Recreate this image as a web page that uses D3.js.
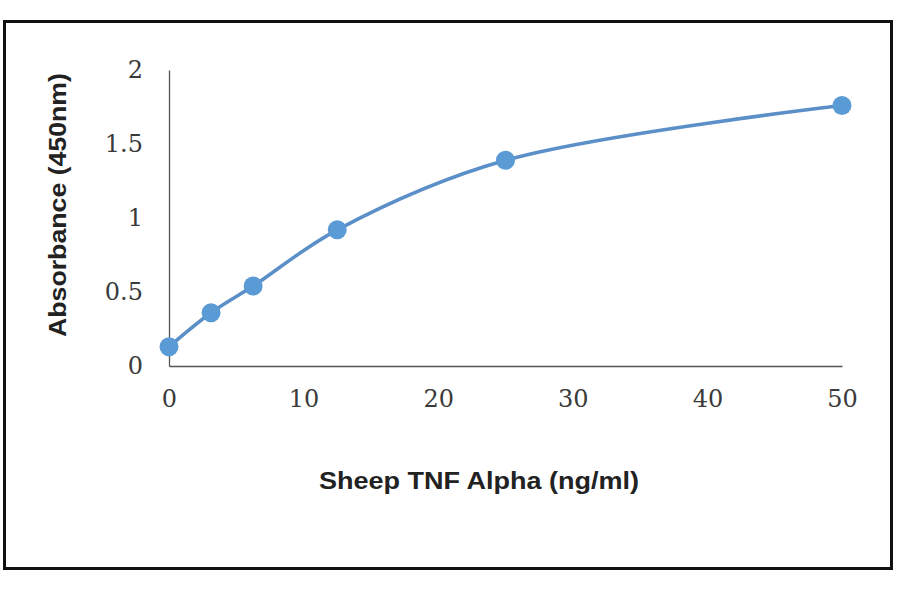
<!DOCTYPE html>
<html>
<head>
<meta charset="utf-8">
<script src="https://cdn.jsdelivr.net/npm/d3@7"></script>
<style>
  body { margin: 0; background: #fff; }
</style>
</head>
<body>
<script>
// data
var concentration = [0, 3.125, 6.25, 12.5, 25, 50];
var absorbance = [0.13, 0.36, 0.54, 0.92, 1.39, 1.76];
var xTicks = [0, 10, 20, 30, 40, 50];
var yTicks = [0, 0.5, 1, 1.5, 2];

var W = 900, H = 594;
var svg = d3.select("body").append("svg")
            .attr("width", W)
            .attr("height", H);

// outer frame
svg.append("rect")
   .attr("x", 4.5).attr("y", 21.5)
   .attr("width", 887).attr("height", 547)
   .attr("fill", "none")
   .attr("stroke", "#111")
   .attr("stroke-width", 3);

var x = d3.scaleLinear().domain([0, 50]).range([169, 842]);
var y = d3.scaleLinear().domain([0, 2]).range([366, 70]);

// axes, no tick marks
var xAxis = svg.append("g")
               .attr("transform", "translate(0," + y(0) + ")")
               .call(d3.axisBottom(x).tickValues(xTicks).tickSize(0).tickPadding(24));
var yAxis = svg.append("g")
               .attr("transform", "translate(" + x(0) + ",0)")
               .call(d3.axisLeft(y).tickValues(yTicks).tickSize(0).tickPadding(26)
                      .tickFormat(function(d){ return d; }));

xAxis.select(".domain").attr("stroke", "#555").attr("stroke-width", 1.3);
yAxis.select(".domain").attr("stroke", "#555").attr("stroke-width", 1.3);
svg.selectAll(".tick text")
   .attr("font-family", "'DejaVu Serif', serif")
   .attr("font-size", 24)
   .attr("fill", "#3a3a3a");
xAxis.selectAll(".tick text").attr("dy", "0.71em");
yAxis.selectAll(".tick text").attr("dy", "0.3em");

// smooth line
var pts = concentration.map(function(c, i){ return [c, absorbance[i]]; });
var line = d3.line()
             .x(function(d){ return x(d[0]); })
             .y(function(d){ return y(d[1]); })
             .curve(d3.curveCatmullRom.alpha(0.5));

svg.append("path")
   .datum(pts)
   .attr("d", line)
   .attr("fill", "none")
   .attr("stroke", "#5b8fc7")
   .attr("stroke-width", 3.5);

svg.selectAll(".dot")
   .data(pts)
   .enter().append("circle")
   .attr("class", "dot")
   .attr("cx", function(d){ return x(d[0]); })
   .attr("cy", function(d){ return y(d[1]); })
   .attr("r", 9.5)
   .attr("fill", "#5b9bd5");

// axis titles
svg.append("text")
   .attr("x", 479).attr("y", 489)
   .attr("text-anchor", "middle")
   .attr("font-family", "Arial, 'Liberation Sans', sans-serif")
   .attr("font-weight", "bold")
   .attr("font-size", 23)
   .attr("textLength", 320)
   .attr("lengthAdjust", "spacingAndGlyphs")
   .attr("fill", "#222")
   .text("Sheep TNF Alpha (ng/ml)");

svg.append("text")
   .attr("transform", "translate(66,205) rotate(-90)")
   .attr("text-anchor", "middle")
   .attr("font-family", "Arial, 'Liberation Sans', sans-serif")
   .attr("font-weight", "bold")
   .attr("font-size", 24)
   .attr("textLength", 264)
   .attr("lengthAdjust", "spacingAndGlyphs")
   .attr("fill", "#222")
   .text("Absorbance (450nm)");
</script>
</body>
</html>
